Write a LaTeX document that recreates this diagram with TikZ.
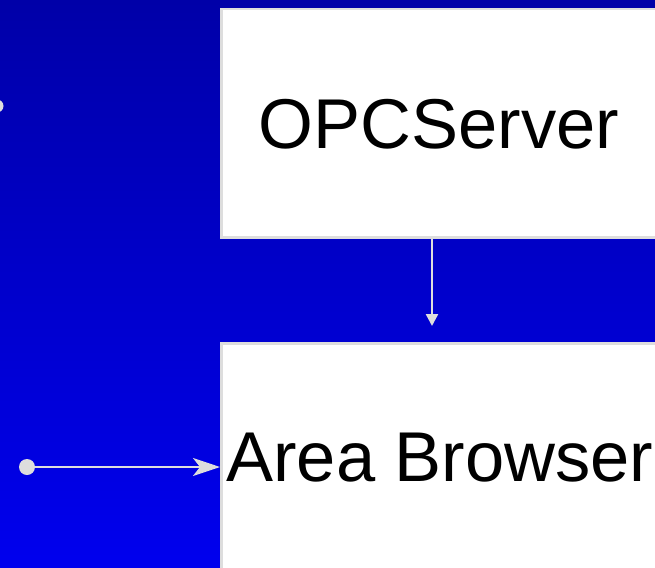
\documentclass[tikz,border=0pt]{standalone}
\usepackage{fontspec}
\setmainfont{Liberation Sans}
\usetikzlibrary{arrows.meta}
\definecolor{bgtop}{HTML}{0000A8}
\definecolor{bgbot}{HTML}{0000EE}
\definecolor{edgec}{HTML}{DDDDDD}
\begin{document}
\begin{tikzpicture}[x=1pt,y=-1pt,
  box/.style={draw=edgec, line width=2.5pt, fill=white, anchor=north west, inner sep=0pt},
  lbl/.style={font=\fontsize{70.5}{80}\selectfont, text=black, inner sep=0pt, anchor=base},
  conn/.style={draw=edgec, line width=2.5pt},
  dotnode/.style={circle, fill=edgec, inner sep=0pt}]
\useasboundingbox (0,0) rectangle (655,567);
\clip (0,0) rectangle (655,567);
\shade[top color=bgtop, bottom color=bgbot] (0,0) rectangle (655,567);
\node[box, minimum width=500pt, minimum height=228pt] (opc) at (220,8) {};
\node[box, minimum width=500pt, minimum height=300pt] (ab) at (220,342) {};
\node[lbl] (opct) at (439,148) {OPCServer};
\node[lbl] (abt) at (440,481) {Area Browser};
\node[dotnode, minimum size=13pt] (d1) at (-3,106) {};
\node[dotnode, minimum size=16pt] (d2) at (27,467) {};
\coordinate (t) at (432,326);
\draw[conn, -{Triangle[length=12pt,width=12pt]}] (opc.south -| t) -- (t);
\draw[conn, -{Stealth[length=27pt,width=18pt,inset=7pt]}] (d2) -- (d2 -| ab.west);
\end{tikzpicture}
\end{document}
